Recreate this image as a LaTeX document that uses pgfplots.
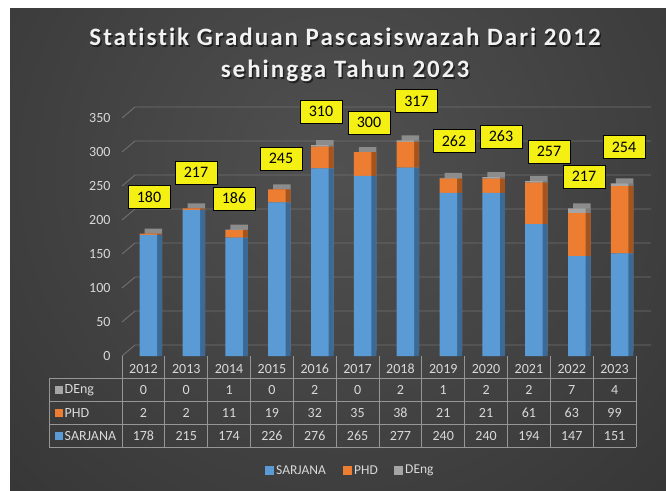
\documentclass[border=0pt]{standalone}
\usepackage{fontspec}
\setmainfont{Carlito}[Ligatures=NoCommon]
\newfontfamily\titlefont{Carlito}[LetterSpace=8, Ligatures=NoCommon]
\usepackage{pgfplots}
\pgfplotsset{compat=1.18}
\usepackage{pgfplotstable}

\definecolor{bgin}{RGB}{80,80,80}
\definecolor{bgout}{RGB}{34,34,34}
\definecolor{sarj}{RGB}{91,155,213}
\definecolor{sarjd}{RGB}{60,106,150}
\definecolor{phd}{RGB}{237,125,49}
\definecolor{phdd}{RGB}{166,84,30}
\definecolor{deng}{RGB}{165,165,165}
\definecolor{dengd}{RGB}{125,125,125}
\definecolor{topc}{RGB}{140,140,140}
\definecolor{gridc}{RGB}{112,112,112}
\definecolor{tablec}{RGB}{150,150,150}
\definecolor{txt}{RGB}{217,217,217}
\definecolor{callout}{RGB}{245,240,20}

\pgfplotstableread{
idx year sarjana phd deng total
0  2012 178 2  0 180
1  2013 215 2  0 217
2  2014 174 11 1 186
3  2015 226 19 0 245
4  2016 276 32 2 310
5  2017 265 35 0 300
6  2018 277 38 2 317
7  2019 240 21 1 262
8  2020 240 21 2 263
9  2021 194 61 2 257
10 2022 147 63 7 217
11 2023 151 99 4 254
}\datatable

\pgfplotsset{chartaxis/.style={
  scale only axis, width=514pt, height=238pt,
  ybar stacked, bar width=17.5pt, bar shift=5pt,
  xmin=-0.5, xmax=11.5, ymin=0, ymax=350,
  enlargelimits=false,
  anchor=south west, clip=false,
}}

\begin{document}
\begin{tikzpicture}
\useasboundingbox (0,0) rectangle (666pt,-490pt);
\fill[white] (0,0) rectangle (666pt,-490pt);
\begin{scope}
  \clip (10pt,-8pt) rectangle (666pt,-490pt);
  \shade[inner color=bgin, outer color=bgout] (338pt,-170pt) circle (840pt);
\end{scope}

% back-wall grid lines
\begin{scope}[x=1pt,y=-1pt]
\foreach \v in {0,50,...,350}{
  \pgfmathsetmacro\yf{356-0.68*\v}
  \pgfmathsetmacro\yb{345-0.68*\v}
  \draw[gridc, line width=0.9pt] (122,\yf) -- (135,\yb) -- (651,\yb);
}
\end{scope}

% top faces of the columns
\begin{axis}[chartaxis, at={(127pt,-351pt)}, hide axis]
\addplot[fill=topc, draw=none] table[x=idx,y=total]{\datatable};
\end{axis}
% side faces of the columns
\begin{axis}[chartaxis, at={(127pt,-356pt)}, hide axis]
\addplot[fill=sarjd, draw=none] table[x=idx,y=sarjana]{\datatable};
\addplot[fill=phdd, draw=none] table[x=idx,y=phd]{\datatable};
\addplot[fill=dengd, draw=none] table[x=idx,y=deng]{\datatable};
\end{axis}

% front faces
\begin{axis}[chartaxis, at={(122pt,-356pt)},
  hide x axis, axis y line*=left, y axis line style={draw=none},
  ytick={0,50,...,350}, major tick length=0pt,
  /pgf/number format/assume math mode=true,
  yticklabel style={text=txt, font=\fontsize{14}{14}\selectfont, xshift=-8pt}]
\addplot[fill=sarj, draw=none] table[x=idx,y=sarjana]{\datatable};
\addplot[fill=phd, draw=none] table[x=idx,y=phd]{\datatable};
\addplot[fill=deng, draw=none] table[x=idx,y=deng]{\datatable};
\end{axis}

\begin{scope}[x=1pt,y=-1pt]
% callouts
\foreach \px/\py [count=\i from 0] in {149/197,196/172.5,234/198.5,281/158.5,321/111.5,369/122.5,416.5/101,454/141,501/136.5,549/151.5,584/176.5,624/147}{
  \pgfplotstablegetelem{\i}{total}\of\datatable
  \node[draw=black, line width=1pt, fill=callout, minimum width=42pt, minimum height=23pt, inner sep=0pt, font=\fontsize{16}{16}\selectfont, text=black] at (\px,\py) {\pgfplotsretval};
}
% data table
\foreach \i in {0,...,12}{
  \pgfmathsetmacro\xx{122+42.8333*\i}
  \draw[tablec, line width=0.8pt] (\xx,356) -- (\xx,447);
}
\draw[tablec, line width=0.8pt] (49,378) -- (49,447);
\foreach \yy in {378,401,424,447}{
  \draw[tablec, line width=0.8pt] (49,\yy) -- (636,\yy);
}
\foreach \i in {0,...,11}{
  \pgfmathsetmacro\xc{143.4167+42.8333*\i}
  \pgfplotstablegetelem{\i}{year}\of\datatable
  \node[text=txt, font=\fontsize{14}{14}\selectfont] at (\xc,368.5) {\pgfplotsretval};
  \pgfplotstablegetelem{\i}{deng}\of\datatable
  \node[text=txt, font=\fontsize{14}{14}\selectfont] at (\xc,390) {\pgfplotsretval};
  \pgfplotstablegetelem{\i}{phd}\of\datatable
  \node[text=txt, font=\fontsize{14}{14}\selectfont] at (\xc,413) {\pgfplotsretval};
  \pgfplotstablegetelem{\i}{sarjana}\of\datatable
  \node[text=txt, font=\fontsize{14}{14}\selectfont] at (\xc,436) {\pgfplotsretval};
}
\fill[deng] (55,386) rectangle (63,394);
\node[text=txt, anchor=west, inner sep=0pt, font=\fontsize{14}{14}\selectfont] at (64.5,390) {DEng};
\fill[phd] (55,409) rectangle (63,417);
\node[text=txt, anchor=west, inner sep=0pt, font=\fontsize{14}{14}\selectfont] at (64.5,413) {PHD};
\fill[sarj] (55,432) rectangle (63,440);
\node[text=txt, anchor=west, inner sep=0pt, font=\fontsize{14}{14}\selectfont] at (64.5,436) {SARJANA};

% legend
\fill[sarj] (265,466) rectangle (274,475);
\node[text=txt, anchor=west, inner sep=0pt, font=\fontsize{13.5}{13.5}\selectfont] at (276,470.5) {SARJANA};
\fill[phd] (343,466) rectangle (352,475);
\node[text=txt, anchor=west, inner sep=0pt, font=\fontsize{13.5}{13.5}\selectfont] at (354,470.5) {PHD};
\fill[deng] (394,466) rectangle (403,475);
\node[text=txt, anchor=west, inner sep=0pt, font=\fontsize{13.5}{13.5}\selectfont] at (405,470.5) {DEng};

% title
\node[text=black, opacity=0.55, align=center, font=\titlefont\fontsize{25}{32}\selectfont\bfseries] at (346.5,56.5) {Statistik Graduan Pascasiswazah Dari 2012\\sehingga Tahun 2023};
\node[text={rgb,255:red,242;green,242;blue,242}, align=center, font=\titlefont\fontsize{25}{32}\selectfont\bfseries] at (345,55) {Statistik Graduan Pascasiswazah Dari 2012\\sehingga Tahun 2023};
\end{scope}
\end{tikzpicture}
\end{document}
